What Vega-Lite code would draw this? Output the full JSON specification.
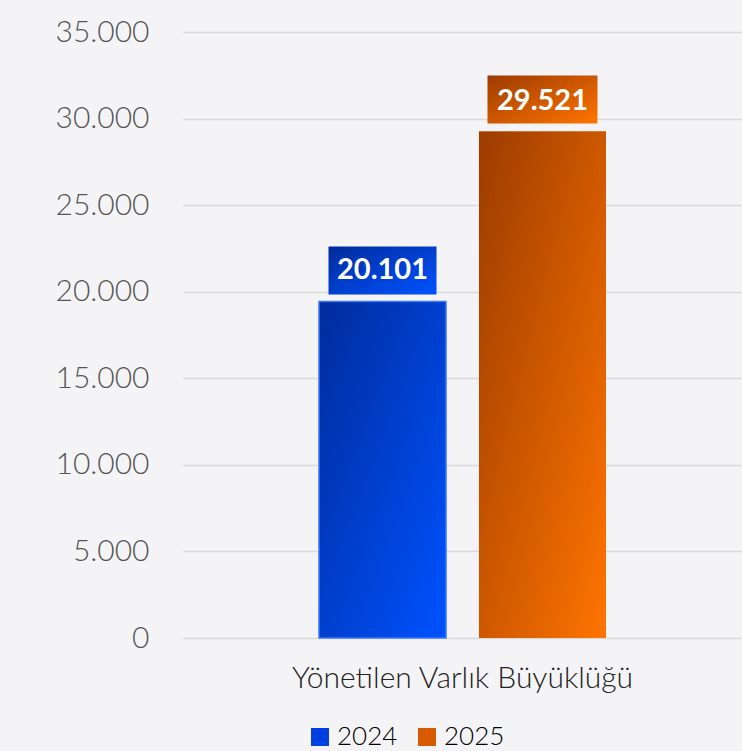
{
  "$schema": "https://vega.github.io/schema/vega-lite/v6.json",
  "width": 559,
  "height": 606,
  "autosize": "none",
  "padding": {"left": 183, "top": 32, "right": 0, "bottom": 113},
  "background": "#f4f4f6",
  "config": {"view": {"stroke": null}, "font": "Lato"},
  "data": {"values": [
    {"cat": "Yönetilen Varlık Büyüklüğü", "year": "2024", "value": 19440, "label": "20.101"},
    {"cat": "Yönetilen Varlık Büyüklüğü", "year": "2025", "value": 29250, "label": "29.521"}
  ]},
  "encoding": {
    "x": {"field": "cat", "type": "nominal", "title": null,
      "scale": {"paddingInner": 0, "paddingOuter": 0},
      "axis": {"labelAngle": 0, "labelFontSize": 30, "labelFontWeight": 300, "labelLimit": 0, "labelColor": "#222222", "labelPadding": 25, "domain": false, "ticks": false, "grid": false}},
    "xOffset": {"field": "year", "type": "nominal", "scale": {"paddingInner": 0.206, "paddingOuter": 0.85}},
    "y": {"field": "value", "type": "quantitative", "title": null,
      "scale": {"domain": [0, 35000], "nice": false},
      "axis": {"values": [0, 5000, 10000, 15000, 20000, 25000, 30000, 35000],
        "labelExpr": "replace(format(datum.value, ','), ',', '.')",
        "labelFontSize": 30, "labelFontWeight": 300, "labelColor": "#555555", "labelPadding": 34,
        "domain": false, "ticks": false, "gridColor": "#d9d9d9", "gridWidth": 1.5}}
  },
  "layer": [
    {
      "mark": {"type": "bar"},
      "encoding": {
        "color": {"field": "year", "type": "nominal",
          "scale": {"range": ["#0040e0", "#d85a00"]},
          "legend": {"title": null, "orient": "none", "legendX": 124, "legendY": 692, "direction": "horizontal",
            "symbolType": "square", "symbolSize": 324, "symbolStrokeWidth": 0, "labelFontSize": 26, "labelFontWeight": 300, "labelColor": "#000000",
            "columnPadding": 16, "labelOffset": 4}}
      }
    },
    {
      "transform": [{"filter": "datum.year === '2024'"}],
      "mark": {"type": "bar", "fill": {"gradient": "linear", "x1": 0, "y1": 0, "x2": 1, "y2": 1,
        "stops": [{"offset": 0, "color": "#002c9c"}, {"offset": 1, "color": "#0052ff"}]},
        "stroke": "#3a78ff", "strokeWidth": 1.5}
    },
    {
      "transform": [{"filter": "datum.year === '2025'"}],
      "mark": {"type": "bar", "fill": {"gradient": "linear", "x1": 0, "y1": 0, "x2": 1, "y2": 1,
        "stops": [{"offset": 0, "color": "#9c3c00"}, {"offset": 1, "color": "#ff7400"}]}}
    },
    {
      "transform": [{"filter": "datum.year === '2024'"}],
      "mark": {"type": "point", "shape": "M-1,-0.444L1,-0.444L1,0.444L-1,0.444Z", "size": 11664, "filled": true, "opacity": 1, "strokeWidth": 0, "yOffset": -31,
        "fill": {"gradient": "linear", "x1": 0, "y1": 0, "x2": 1, "y2": 1,
        "stops": [{"offset": 0, "color": "#002c9c"}, {"offset": 1, "color": "#0052ff"}]}}
    },
    {
      "transform": [{"filter": "datum.year === '2025'"}],
      "mark": {"type": "point", "shape": "M-1,-0.436L1,-0.436L1,0.436L-1,0.436Z", "size": 12100, "filled": true, "opacity": 1, "strokeWidth": 0, "yOffset": -32,
        "fill": {"gradient": "linear", "x1": 0, "y1": 0, "x2": 1, "y2": 1,
        "stops": [{"offset": 0, "color": "#9c3c00"}, {"offset": 1, "color": "#ff7400"}]}}
    },
    {
      "mark": {"type": "text", "color": "white", "fontSize": 29, "fontWeight": "bold", "baseline": "middle", "align": "center", "yOffset": -31},
      "encoding": {"text": {"field": "label", "type": "nominal"}}
    }
  ]
}
